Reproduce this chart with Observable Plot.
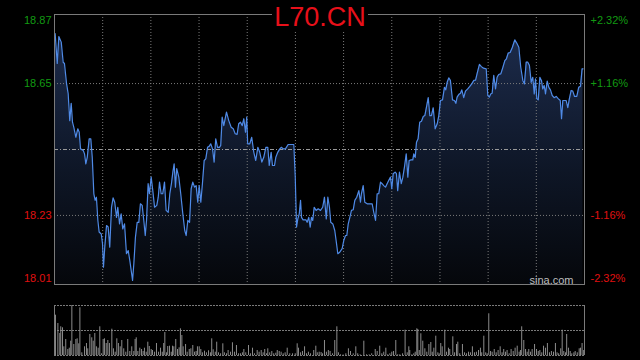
<!DOCTYPE html>
<html>
<head>
<meta charset="utf-8">
<script src="https://cdn.jsdelivr.net/npm/d3@7"></script>
<script src="https://cdn.jsdelivr.net/npm/@observablehq/plot@0.6"></script>
<style>
html, body { margin: 0; padding: 0; background: #000; }
#wrap { position: relative; width: 640px; height: 360px; background: #000; overflow: hidden;
  font-family: "Liberation Sans", Arial, sans-serif; }
#wrap svg { display: block; }
#title { position: absolute; left: 0; top: 4px; width: 640px; text-align: center; pointer-events: none; }
#title span { display: inline-block; background: #000; color: #e8101a; font-size: 27px; line-height: 27px;
  padding: 0 2px; font-family: "Liberation Sans", Arial, sans-serif; }
</style>
</head>
<body>
<div id="wrap"><div id="charts"></div><div id="title"><span>L70.CN</span></div></div>
<script>
// ---- data ----
const symbol = "L70.CN";
const prevClose = 18.44;
const yMin = 18.01, yMax = 18.87;
const tickValues = [18.87, 18.65, 18.23, 18.01];
const leftLabels = ["18.87", "18.65", "18.23", "18.01"];
const rightLabels = ["+2.32%", "+1.16%", "-1.16%", "-2.32%"];
const timeGrid = [30, 60, 90, 120, 150, 180, 210, 240, 270, 300];
const timeDomain = [0, 330];
const volMax = 1000;
const volGrid = [0, 500, 1000];

// minutes since open
const priceTimes = [
0.4,1.7,2.7,4.2,5.4,6.2,7.5,8.5,9.5,10.4,
11.2,12.0,13.3,14.5,15.4,16.2,17.9,18.7,19.5,20.4,
21.6,22.6,23.5,24.5,25.3,26.1,27.0,27.8,29.1,29.9,
30.5,31.3,32.4,33.4,34.4,35.5,36.5,37.5,38.6,39.4,
40.5,41.5,42.5,43.6,44.8,45.9,46.9,47.9,48.6,49.4,
50.4,51.5,52.5,53.5,54.6,55.6,56.5,57.3,58.3,59.1,
60.2,61.2,62.3,63.7,64.6,65.4,66.4,67.4,68.5,69.5,
70.8,71.8,72.8,73.7,74.5,75.3,76.1,77.4,78.6,79.9,
81.1,82.0,83.0,84.1,85.1,86.1,87.2,88.2,89.2,90.1,
91.1,92.1,93.2,94.2,95.3,96.3,97.3,98.4,99.4,100.4,
101.5,102.7,103.5,104.4,105.4,107.1,108.5,110.0,111.3,112.5,
113.7,114.7,115.8,116.9,117.9,118.9,119.7,120.3,121.6,122.8,
124.1,125.3,126.6,127.8,129.1,130.3,131.6,132.8,133.7,134.9,
135.7,137.0,137.8,139.0,140.3,141.3,142.4,143.8,145.5,148.0,
149.0,149.9,150.7,151.5,152.4,153.2,153.8,154.8,156.5,157.3,
158.3,159.2,160.0,160.8,161.7,162.9,164.2,165.6,167.0,168.1,
169.2,170.2,171.2,172.0,173.3,174.5,175.6,176.4,177.6,179.1,
180.1,181.2,182.0,182.9,183.9,184.9,186.0,187.0,188.2,189.5,
190.5,191.1,192.2,193.2,194.7,196.1,197.8,198.8,199.9,200.9,
201.9,203.0,204.0,205.0,206.1,207.1,208.1,209.2,210.0,210.9,
212.1,212.9,213.7,214.8,215.9,216.9,217.9,219.0,220.0,220.8,
222.1,223.1,223.7,224.6,225.4,226.4,227.4,228.5,229.6,230.6,
231.6,232.7,233.7,234.7,235.8,237.0,238.3,239.3,240.3,241.6,
242.8,243.6,244.5,245.5,246.5,247.8,249.0,249.9,250.7,251.7,
252.8,253.6,254.8,255.9,257.3,258.6,259.8,261.1,262.2,263.1,
264.6,265.8,267.1,268.8,269.8,270.8,271.6,272.5,273.5,274.6,
275.6,276.6,277.9,279.1,280.4,281.4,282.5,283.7,285.0,286.6,
287.8,289.1,290.3,291.6,292.6,293.7,294.7,295.7,296.8,297.8,
298.7,299.5,300.3,301.2,302.2,303.2,304.0,304.9,305.7,306.8,
307.8,308.8,309.9,311.1,312.4,313.6,314.9,315.7,316.5,318.6,
319.6,320.6,321.7,322.7,323.8,325.2,326.4,327.5,328.5,329.1
];
const prices = [
18.809,18.714,18.800,18.782,18.718,18.714,18.650,18.618,18.532,18.587,
18.527,18.511,18.479,18.506,18.495,18.442,18.437,18.426,18.394,18.415,
18.474,18.474,18.415,18.299,18.278,18.288,18.214,18.177,18.171,18.140,
18.065,18.129,18.198,18.193,18.129,18.256,18.286,18.272,18.224,18.256,
18.203,18.235,18.187,18.203,18.108,18.118,18.086,18.049,18.023,18.076,
18.161,18.208,18.208,18.267,18.262,18.214,18.166,18.214,18.331,18.299,
18.352,18.309,18.256,18.262,18.288,18.336,18.299,18.299,18.336,18.246,
18.240,18.299,18.331,18.368,18.394,18.320,18.379,18.352,18.299,18.235,
18.182,18.166,18.214,18.208,18.315,18.336,18.320,18.325,18.272,18.325,
18.272,18.331,18.405,18.410,18.447,18.450,18.458,18.442,18.400,18.474,
18.447,18.447,18.453,18.543,18.516,18.559,18.532,18.511,18.506,18.490,
18.488,18.522,18.527,18.516,18.538,18.495,18.543,18.458,18.458,18.479,
18.431,18.405,18.447,18.431,18.400,18.415,18.447,18.447,18.389,18.431,
18.389,18.389,18.415,18.431,18.442,18.447,18.442,18.442,18.456,18.456,
18.456,18.352,18.193,18.219,18.235,18.278,18.224,18.216,18.216,18.208,
18.224,18.193,18.224,18.214,18.256,18.246,18.251,18.246,18.256,18.288,
18.219,18.288,18.256,18.208,18.203,18.182,18.140,18.108,18.113,18.124,
18.150,18.166,18.166,18.203,18.224,18.246,18.248,18.278,18.288,18.309,
18.272,18.299,18.325,18.272,18.267,18.267,18.267,18.240,18.214,18.299,
18.299,18.336,18.331,18.325,18.320,18.331,18.341,18.352,18.315,18.363,
18.368,18.363,18.309,18.368,18.331,18.352,18.384,18.426,18.352,18.405,
18.407,18.407,18.426,18.415,18.463,18.474,18.527,18.530,18.545,18.548,
18.575,18.605,18.548,18.548,18.573,18.506,18.522,18.548,18.596,18.598,
18.638,18.630,18.654,18.668,18.660,18.598,18.596,18.587,18.607,18.615,
18.619,18.630,18.605,18.626,18.633,18.641,18.649,18.660,18.661,18.681,
18.711,18.704,18.699,18.697,18.612,18.607,18.617,18.619,18.676,18.633,
18.670,18.679,18.681,18.700,18.723,18.729,18.747,18.749,18.764,18.789,
18.779,18.766,18.702,18.660,18.649,18.718,18.718,18.708,18.654,18.670,
18.617,18.665,18.602,18.598,18.670,18.660,18.633,18.644,18.617,18.658,
18.638,18.630,18.612,18.605,18.609,18.602,18.596,18.538,18.596,18.596,
18.573,18.602,18.628,18.626,18.609,18.609,18.638,18.641,18.697,18.697
];

const volTimes = [
0.6,2.1,3.3,3.9,5.0,5.8,7.0,8.3,9.2,10.1,
10.8,12.0,13.3,14.1,15.1,15.8,17.0,18.7,19.9,20.7,
22.0,23.2,24.1,25.1,26.1,27.2,28.2,29.3,30.3,31.1,
32.2,33.2,34.2,35.7,36.7,37.8,38.8,39.8,40.9,41.9,
43.1,44.4,45.6,46.9,48.1,49.4,50.2,50.9,51.9,53.1,
54.2,55.2,56.0,57.1,58.1,59.0,60.2,61.0,62.3,63.5,
64.8,66.0,67.1,68.0,68.7,69.7,70.5,71.6,72.7,73.5,
74.3,75.5,76.6,77.6,78.4,79.3,80.1,81.6,82.6,83.9,
84.9,86.1,87.2,88.2,89.0,90.1,91.1,92.1,93.4,94.6,
95.9,97.1,97.9,98.8,100.1,101.0,102.1,103.4,104.8,105.8,
107.1,108.1,109.6,110.8,112.1,113.3,114.6,115.8,117.0,117.9,
119.1,120.8,122.0,123.3,124.5,126.2,127.4,128.7,129.9,130.9,
132.0,132.8,134.0,135.3,136.5,137.8,138.7,139.9,141.1,142.4,
143.6,144.9,146.5,148.2,149.9,151.1,151.9,153.2,154.4,155.7,
156.9,158.1,159.4,161.4,162.7,163.6,164.8,166.0,166.9,168.1,
169.3,170.5,171.6,173.1,174.5,175.8,176.8,178.1,179.7,181.4,
183.0,184.3,186.0,187.6,188.8,190.3,192.6,194.3,195.9,197.5,
199.7,200.9,202.5,203.8,205.0,206.3,207.5,208.8,210.0,211.1,
212.5,213.7,215.0,216.7,218.3,219.6,220.6,221.2,222.5,223.7,
224.6,225.6,226.2,227.1,228.1,229.3,230.6,231.8,233.1,234.3,
235.2,236.2,237.4,238.7,239.5,240.5,241.4,243.0,244.1,245.3,
246.1,248.0,249.1,250.3,251.1,252.3,254.0,255.3,256.5,257.8,
259.0,260.2,261.5,262.7,264.0,265.2,266.0,267.3,268.5,269.4,
270.4,271.5,272.5,273.8,275.0,276.2,277.5,278.7,279.7,280.8,
281.8,283.1,284.3,285.6,286.8,288.1,289.3,290.1,290.9,292.2,
293.3,294.3,295.3,296.4,297.4,298.9,300.1,301.2,302.2,303.4,
304.5,305.7,306.9,308.2,309.4,310.7,311.9,312.9,313.9,315.2,
316.1,317.1,318.2,318.9,320.0,321.1,322.1,323.4,324.2,325.5,
326.7,327.5,328.5,329.5,330.0
];
const volumes = [
806,640,440,574,554,174,320,120,146,286,
1000,220,320,334,234,954,54,174,240,134,
420,354,286,440,174,146,574,34,320,334,
240,300,240,526,134,66,334,240,174,300,
134,66,320,80,174,80,320,354,80,146,
120,80,146,66,266,180,120,100,66,240,
66,146,66,240,460,54,180,186,66,186,
174,320,120,154,534,400,174,220,66,120,
134,200,66,80,174,174,120,54,86,54,
94,54,334,114,66,266,54,34,234,54,
34,100,66,254,66,200,34,34,54,120,
54,200,34,146,34,100,66,100,54,120,
34,134,54,80,34,46,100,80,66,34,
54,146,34,34,34,234,146,54,80,174,
34,66,34,100,186,54,66,60,34,300,
66,100,80,34,300,574,54,14,10,34,
134,80,34,174,34,14,286,14,14,34,
120,80,186,34,66,146,14,34,66,80,
300,14,14,34,506,54,174,100,14,34,
66,534,520,100,434,286,134,66,220,260,
66,146,386,54,34,240,174,506,66,146,
120,374,54,220,266,34,220,54,34,66,
54,174,54,66,100,146,54,386,54,34,
834,80,66,120,54,100,174,54,120,66,
100,34,120,80,146,186,66,100,574,300,
120,66,120,66,120,220,120,80,100,54,
186,146,240,54,80,66,240,54,34,134,
506,80,54,420,146,80,34,54,80,54,
134,146,240,100,406
];

// ---- build tables ----
const priceData = priceTimes.map((t, i) => ({t, p: prices[i]}));
const volData = volTimes.map((t, i) => ({t, v: volumes[i]}));
const ticks = tickValues.map((v, i) => ({v, left: leftLabels[i], right: rightLabels[i]}));
const innerTicks = ticks.filter(d => d.v !== yMin && d.v !== yMax);
const topTicks = ticks.filter(d => d.v === yMax);
const botTicks = ticks.filter(d => d.v === yMin);
const green = "#129a12", red = "#e01010";
const tickColor = d => d.v > prevClose ? green : red;

const gradDefs = () => {
  const ns = "http://www.w3.org/2000/svg";
  const defs = document.createElementNS(ns, "defs");
  const g = document.createElementNS(ns, "linearGradient");
  g.setAttribute("id", "pgrad");
  g.setAttribute("x1", "0"); g.setAttribute("y1", "0");
  g.setAttribute("x2", "0"); g.setAttribute("y2", "1");
  [["0", "#1c2b4b"], ["0.55", "#0e1626"], ["1", "#05070b"]].forEach(([o, c]) => {
    const s = document.createElementNS(ns, "stop");
    s.setAttribute("offset", o); s.setAttribute("stop-color", c);
    g.appendChild(s);
  });
  defs.appendChild(g);
  return defs;
};

const font = "'Liberation Sans', Arial, sans-serif";
const labelMarks = [];
[[topTicks, 6], [innerTicks, 0], [botTicks, -6]].forEach(([rows, dy]) => {
  labelMarks.push(Plot.text(rows, {y: "v", text: "left", frameAnchor: "left", textAnchor: "end",
    dx: -3, dy, fill: tickColor, fontSize: 11}));
  labelMarks.push(Plot.text(rows, {y: "v", text: "right", frameAnchor: "right", textAnchor: "start",
    dx: 6, dy, fill: tickColor, fontSize: 11}));
});

const priceChart = Plot.plot({
  width: 640, height: 290,
  marginLeft: 54, marginRight: 56, marginTop: 14, marginBottom: 6,
  style: {background: "transparent", fontFamily: font, overflow: "visible"},
  x: {domain: timeDomain, axis: null},
  y: {domain: [yMin, yMax], axis: null},
  marks: [
    gradDefs,
    Plot.areaY(priceData, {x: "t", y1: yMin, y2: "p", fill: "url(#pgrad)"}),
    Plot.ruleY(innerTicks, {y: "v", stroke: "#7a7a7a", strokeDasharray: "1,2"}),
    Plot.ruleY([prevClose], {stroke: "#9a9a9a", strokeDasharray: "4,2,1,2"}),
    Plot.ruleX(timeGrid, {stroke: "#7a7a7a", strokeDasharray: "1,2"}),
    Plot.lineY(priceData, {x: "t", y: "p", stroke: "#4f8ae6", strokeWidth: 1.2}),
    Plot.frame({stroke: "#7a7a7a"}),
    ...labelMarks,
    Plot.text(["sina.com"], {frameAnchor: "bottom-right", textAnchor: "end", lineAnchor: "bottom",
      dx: -11, dy: -1, fill: "#bdbdbd", fontSize: 11})
  ]
});

const volChart = Plot.plot({
  width: 640, height: 70,
  marginLeft: 54, marginRight: 56, marginTop: 15, marginBottom: 5,
  style: {background: "transparent", fontFamily: font},
  x: {domain: timeDomain, axis: null},
  y: {domain: [0, volMax], axis: null},
  marks: [
    Plot.ruleY(volGrid, {stroke: "#7a7a7a", strokeDasharray: "2,1"}),
    Plot.ruleX(volData, {x: "t", y1: 0, y2: "v", stroke: "#8c8c8c", strokeWidth: 1}),
    Plot.ruleX(timeDomain, {stroke: "#7a7a7a"})
  ]
});

document.getElementById("title").firstChild.textContent = symbol;
const host = document.getElementById("charts");
host.appendChild(priceChart);
host.appendChild(volChart);
</script>
</body>
</html>
